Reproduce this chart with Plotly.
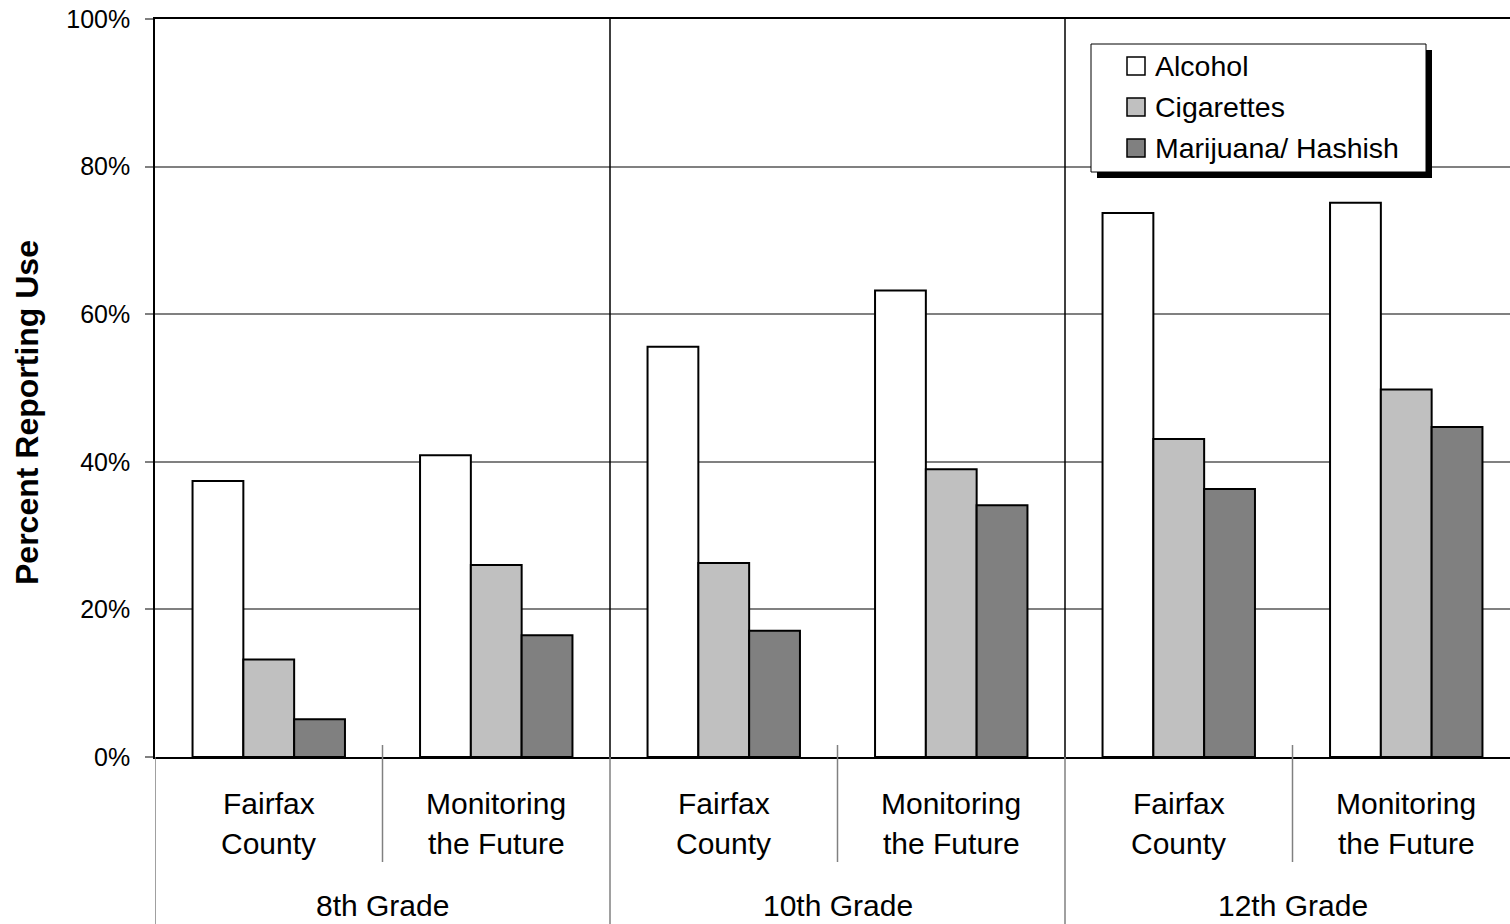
import plotly.graph_objects as go

# Survey results: percent of students reporting use, by grade and data source
grades = ["8th Grade", "10th Grade", "12th Grade"]
sources = [["Fairfax", "County"], ["Monitoring", "the Future"]]
series_names = ["Alcohol", "Cigarettes", "Marijuana/ Hashish"]
series_colors = ["#FFFFFF", "#C0C0C0", "#808080"]

alcohol = [37.4, 40.9, 55.6, 63.2, 73.7, 75.1]
cigarettes = [13.2, 26.0, 26.3, 39.0, 43.1, 49.8]
marijuana = [5.1, 16.5, 17.1, 34.1, 36.3, 44.7]

y_ticks = [0, 20, 40, 60, 80, 100]
y_title = "Percent Reporting Use"

FONT = "Liberation Sans, Arial, Helvetica, sans-serif"
W, H = 1510, 924
ML, MR, MT, MB = 155, 0, 19, 167
PW, PH = W - ML - MR, H - MT - MB
CAT_PX = 227.5  # horizontal pixels per category slot

n_cat = len(grades) * len(sources)
x_pos = list(range(n_cat))
x_max = -0.5 + PW / CAT_PX


def px_x(px):
    return (px - ML) / PW


def px_y(py):
    return (H - MB - py) / PH


fig = go.Figure()
for name, color, vals in zip(series_names, series_colors, [alcohol, cigarettes, marijuana]):
    fig.add_trace(go.Bar(
        x=x_pos, y=vals, name=name,
        marker=dict(color=color, line=dict(color="black", width=2)),
        showlegend=False,
    ))

shapes = []
annotations = []
y_below = px_y(H)  # bottom of the page in paper units

# left axis continuation below the plot
shapes.append(dict(type="line", xref="x", yref="paper", x0=-0.5, x1=-0.5,
                   y0=y_below, y1=0, line=dict(color="#808080", width=1.5)))

# grade separators: black inside plot, gray through the label band
n_src = len(sources)
for g in range(1, len(grades)):
    xb = g * n_src - 0.5
    shapes.append(dict(type="line", xref="x", yref="paper", x0=xb, x1=xb,
                       y0=0, y1=1, line=dict(color="black", width=1.5)))
    shapes.append(dict(type="line", xref="x", yref="paper", x0=xb, x1=xb,
                       y0=y_below, y1=0, line=dict(color="#808080", width=1.5)))

# source separators within each grade
for g in range(len(grades)):
    for s in range(1, n_src):
        xb = g * n_src + s - 0.5
        shapes.append(dict(type="line", xref="x", yref="paper", x0=xb, x1=xb,
                           y0=px_y(862), y1=px_y(745),
                           line=dict(color="#808080", width=1.5)))

# category labels (two lines each) and grade labels
for g, grade in enumerate(grades):
    for s, lines in enumerate(sources):
        xc = g * n_src + s
        for li, txt in enumerate(lines):
            annotations.append(dict(
                x=xc, xref="x", y=px_y(803 + 40 * li), yref="paper",
                text=txt, showarrow=False, xanchor="center", yanchor="middle",
                font=dict(family=FONT, size=30, color="black")))
    annotations.append(dict(
        x=g * n_src + (n_src - 1) / 2, xref="x", y=px_y(905), yref="paper",
        text=grade, showarrow=False, xanchor="center", yanchor="middle",
        font=dict(family=FONT, size=30, color="black")))

# y-axis title
annotations.append(dict(
    x=px_x(27), xref="paper", y=px_y(413), yref="paper",
    text="<b>" + y_title + "</b>", textangle=-90, showarrow=False,
    xanchor="center", yanchor="middle",
    font=dict(family=FONT, size=32, color="black")))

# legend box with drop shadow
LX0, LY0, LX1, LY1 = 1091, 44, 1426, 172
shapes.append(dict(type="rect", xref="paper", yref="paper",
                   x0=px_x(LX0 + 6), x1=px_x(LX1 + 6), y0=px_y(LY1 + 6), y1=px_y(LY0 + 6),
                   fillcolor="black", line=dict(width=0), layer="above"))
shapes.append(dict(type="rect", xref="paper", yref="paper",
                   x0=px_x(LX0), x1=px_x(LX1), y0=px_y(LY1), y1=px_y(LY0),
                   fillcolor="white", line=dict(color="black", width=1), layer="above"))
for i, (name, color) in enumerate(zip(series_names, series_colors)):
    cy = 66 + 41 * i
    shapes.append(dict(type="rect", xref="paper", yref="paper",
                       x0=px_x(1127), x1=px_x(1145), y0=px_y(cy + 9), y1=px_y(cy - 9),
                       fillcolor=color, line=dict(color="black", width=1.5), layer="above"))
    annotations.append(dict(
        x=px_x(1153), xref="paper", y=px_y(cy), yref="paper",
        text=name, showarrow=False, xanchor="left", yanchor="middle",
        font=dict(family=FONT, size=28.5, color="black")))

fig.update_layout(
    width=W, height=H,
    margin=dict(l=ML, r=MR, t=MT, b=MB, pad=0),
    paper_bgcolor="white", plot_bgcolor="white",
    barmode="group", bargap=0.33, bargroupgap=0,
    font=dict(family=FONT, color="black"),
    shapes=shapes, annotations=annotations,
    showlegend=False,
)
fig.update_xaxes(
    range=[-0.5, x_max], showticklabels=False, ticks="", showgrid=False,
    zeroline=False, showline=True, linecolor="black", linewidth=1.5, mirror=True,
)
fig.update_yaxes(
    range=[0, 100], tickvals=y_ticks, ticktext=[f"{v}%" for v in y_ticks],
    ticks="outside", ticklen=8, tickcolor="#808080", tickwidth=1.5,
    ticklabelstandoff=10,
    tickfont=dict(family=FONT, size=25, color="black"),
    showgrid=True, gridcolor="#808080", gridwidth=1.5,
    zeroline=False, showline=True, linecolor="black", linewidth=1.5,
)

fig.write_html("out.html")
